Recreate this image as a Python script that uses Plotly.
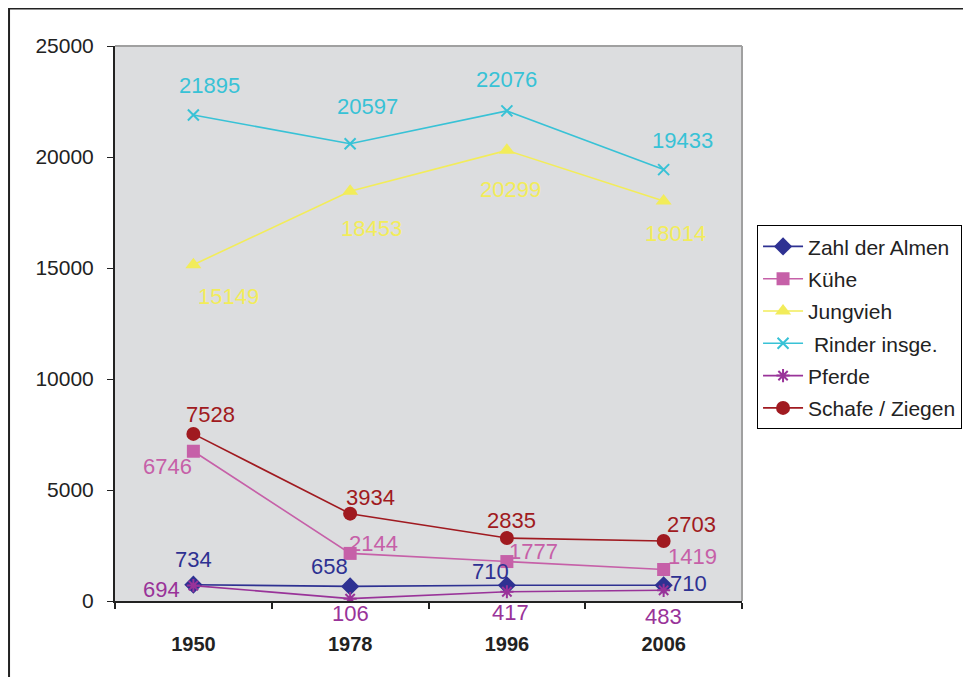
import plotly.graph_objects as go

years = ["1950", "1978", "1996", "2006"]
almen = [734, 658, 710, 710]
kuehe = [6746, 2144, 1777, 1419]
jungvieh = [15149, 18453, 20299, 18014]
rinder = [21895, 20597, 22076, 19433]
pferde = [694, 106, 417, 483]
schafe = [7528, 3934, 2835, 2703]
y_ticks = [0, 5000, 10000, 15000, 20000, 25000]

series = [
    ("Zahl der Almen", almen, "#2e3192", "diamond", 14),
    ("Kühe", kuehe, "#c660a8", "square", 13),
    ("Jungvieh", jungvieh, "#f2ec5a", "triangle-up", 14),
    (" Rinder insge.", rinder, "#38c2d6", "x-thin", 11),
    ("Pferde", pferde, "#993399", "asterisk", 11),
    ("Schafe / Ziegen", schafe, "#a01a20", "circle", 14),
]

# label offsets (pixels, dx right, dy down) per series
offsets = [
    [(0, -25), (-21, -20), (-16, -14), (25, -2)],
    [(-26, 15), (23, -10), (27, -10), (29, -13)],
    [(35, 32), (21, 37), (4, 39), (12, 32)],
    [(16, -29), (17, -37), (0, -31), (19, -29)],
    [(-32, 4), (0, 15), (4, 21), (0, 26)],
    [(17, -19), (20, -16), (5, -18), (28, -16)],
]

fig = go.Figure()
for i, (name, vals, color, sym, size) in enumerate(series):
    open_sym = sym in ("x-thin", "asterisk")
    fig.add_trace(go.Scatter(
        x=years, y=vals, name=name, mode="lines+markers",
        legendgroup=str(i),
        line=dict(color=color, width=1.6),
        marker=dict(symbol=sym, size=size, color=color,
                    line=dict(color=color, width=2 if open_sym else 0)),
    ))
    for j, v in enumerate(vals):
        dx, dy = offsets[i][j]
        fig.add_annotation(
            x=j, y=v, xref="x", yref="y", text=str(v), showarrow=False,
            xshift=dx, yshift=-dy,
            font=dict(size=22, color=color, family="Liberation Sans, Arial"),
        )

# page body has an 8px margin, compensate in the figure margins
fig.update_layout(
    width=971, height=677,
    margin=dict(l=107, r=237, t=38, b=84),
    paper_bgcolor="white",
    plot_bgcolor="#dcdddf",
    font=dict(family="Liberation Sans, Arial", color="#222222"),
    showlegend=True,
    legend=dict(
        x=1.024, y=0.677, xanchor="left", yanchor="top",
        bgcolor="white", bordercolor="black", borderwidth=1,
        font=dict(size=21, color="#222222"),
        traceorder="grouped", tracegroupgap=2, itemwidth=40,
    ),
    xaxis=dict(
        type="category", range=[-0.5, 3.5],
        showgrid=False, zeroline=False,
        showline=True, linecolor="#222222", linewidth=2,
        ticks="outside", ticklen=6, tickcolor="#222222", tickwidth=2,
        tickson="boundaries",
        tickfont=dict(size=20, color="#222222", family="Liberation Sans, Arial", weight="bold"),
        ticklabelstandoff=24,
    ),
    yaxis=dict(
        range=[0, 25000], tickvals=y_ticks, tickformat="d",
        showgrid=False, zeroline=False,
        showline=True, linecolor="#222222", linewidth=2,
        ticks="outside", ticklen=6, tickcolor="#222222", tickwidth=1,
        tickfont=dict(size=21, color="#222222"),
        ticklabelstandoff=9,
    ),
    shapes=[
        dict(type="line", xref="paper", yref="paper", x0=0, x1=1, y0=1, y1=1,
             line=dict(color="#a0a0a0", width=2)),
        dict(type="line", xref="paper", yref="paper", x0=1, x1=1, y0=0, y1=1,
             line=dict(color="#a0a0a0", width=2)),
        dict(type="rect", xref="paper", yref="paper",
             x0=-0.169, x1=1.8, y0=-0.6, y1=1.0676,
             line=dict(color="#222222", width=2)),
    ],
)

fig.write_html("out.html")
